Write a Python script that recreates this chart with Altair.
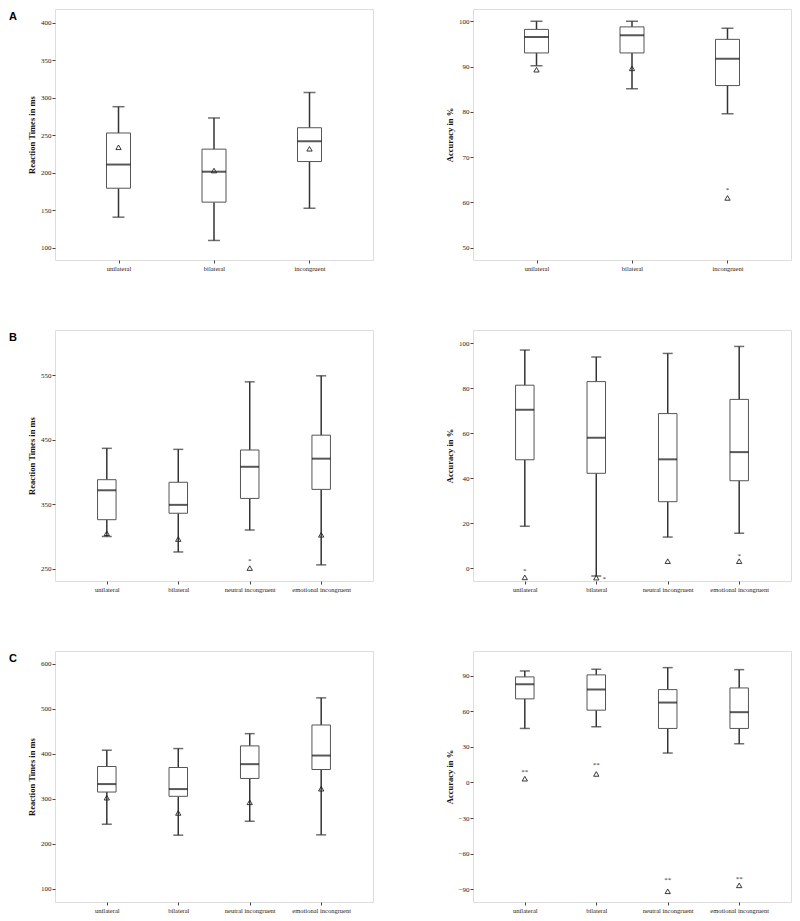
import altair as alt
import pandas as pd

# ---------------- data ----------------
A_CATS = ["unilateral", "bilateral", "incongruent"]
BC_CATS = ["unilateral", "bilateral", "neutral incongruent", "emotional incongruent"]

# Panel A - reaction times
A_RT_LOW = [141, 110, 153]
A_RT_Q1 = [179.5, 161, 215]
A_RT_MED = [211, 201.5, 242]
A_RT_Q3 = [253, 231.5, 260]
A_RT_HIGH = [288, 273, 307]
A_RT_MEAN = [234, 203, 232]

# Panel A - accuracy
A_ACC_LOW = [90.2, 85.1, 79.6]
A_ACC_Q1 = [93, 93, 85.8]
A_ACC_MED = [96.5, 96.9, 91.7]
A_ACC_Q3 = [98.2, 98.75, 96]
A_ACC_HIGH = [100, 100, 98.45]
A_ACC_MEAN = [89.3, 89.6, 61]
A_ACC_STAR_CAT = ["incongruent"]
A_ACC_STAR_VAL = [62.7]
A_ACC_STAR_TXT = ["*"]

# Panel B - reaction times
B_RT_LOW = [300, 276, 310, 256]
B_RT_Q1 = [326, 336, 359, 373]
B_RT_MED = [371.6, 349, 408, 420.6]
B_RT_Q3 = [388, 384, 434, 457]
B_RT_HIGH = [436.6, 435, 539.7, 549]
B_RT_MEAN = [305, 296, 251, 302.6]
B_RT_STAR_CAT = ["neutral incongruent"]
B_RT_STAR_VAL = [261.5]
B_RT_STAR_TXT = ["*"]

# Panel B - accuracy
B_ACC_LOW = [18.7, -3.4, 13.9, 15.6]
B_ACC_Q1 = [48.2, 42.2, 29.6, 38.9]
B_ACC_MED = [70.4, 58, 48.4, 51.6]
B_ACC_Q3 = [81.3, 82.9, 68.7, 75]
B_ACC_HIGH = [96.9, 93.8, 95.4, 98.5]
B_ACC_MEAN = [-4, -4.1, 3.2, 3.2]
B_ACC_STAR_CAT = ["unilateral", "emotional incongruent"]
B_ACC_STAR_VAL = [-1.2, 5.5]
B_ACC_STAR_TXT = ["*", "*"]
B_ACC_SIDE_STAR_CAT = ["bilateral"]
B_ACC_SIDE_STAR_VAL = [-4.6]

# Panel C - reaction times
C_RT_LOW = [243.6, 219.3, 250.2, 220]
C_RT_Q1 = [315, 305.5, 345.2, 365]
C_RT_MED = [332.7, 321.6, 376.9, 396]
C_RT_Q3 = [371.7, 369.5, 417.4, 463.8]
C_RT_HIGH = [407.8, 411.5, 444.6, 524]
C_RT_MEAN = [302.5, 268.6, 292.2, 322.4]

# Panel C - accuracy
C_ACC_LOW = [45.5, 46.9, 24.8, 32.6]
C_ACC_Q1 = [70.4, 60.9, 45.5, 45.5]
C_ACC_MED = [82.7, 78.2, 67.3, 59.2]
C_ACC_Q3 = [88.9, 90.6, 78.2, 79.6]
C_ACC_HIGH = [93.9, 95.3, 96.7, 95]
C_ACC_MEAN = [3.2, 7.2, -91.6, -86.6]
C_ACC_STAR_CAT = BC_CATS
C_ACC_STAR_VAL = [9.2, 14.9, -81.8, -81.4]
C_ACC_STAR_TXT = ["**", "**", "**", "**"]

RT_TITLE = "Reaction Times in ms"
ACC_TITLE = "Accuracy in %"

W = 318
H = 251
SERIF = "Liberation Serif"


def panel(cats, low, q1, med, q3, high, mean, title, domain, ticks, box_w, cap_w,
          pad, star_cat=None, star_val=None, star_txt=None,
          side_cat=None, side_val=None, letter=None):
    df = pd.DataFrame({"cat": cats, "low": low, "q1": q1, "med": med,
                       "q3": q3, "high": high, "mean": mean})
    xs = alt.Scale(type="point", padding=pad, domain=cats)
    ys = alt.Scale(domain=domain, nice=False, zero=False)
    x = alt.X("cat:N", scale=xs, sort=cats,
              axis=alt.Axis(title=None, labelAngle=0, labelFont=SERIF, labelFontSize=6.5,
                            tickSize=3, labelPadding=2, domain=False, labelColor="#222",
                            tickColor="#444"))
    yaxis = alt.Axis(title=title, values=ticks, labelFont=SERIF, labelFontSize=7,
                     titleFont=SERIF, titleFontSize=8.5, titleFontWeight="bold",
                     tickSize=3, labelPadding=1, titlePadding=4, domain=False, grid=False,
                     labelColor="#222", titleColor="#111", tickColor="#444")
    base = alt.Chart(df)
    whisk_lo = base.mark_rule(color="#333", strokeWidth=1.5).encode(
        x=x, y=alt.Y("low:Q", scale=ys, axis=yaxis), y2="q1:Q")
    whisk_hi = base.mark_rule(color="#333", strokeWidth=1.5).encode(
        x=x, y=alt.Y("q3:Q", scale=ys), y2="high:Q")
    cap_lo = base.mark_tick(color="#333", thickness=1.5, size=cap_w).encode(
        x=x, y=alt.Y("low:Q", scale=ys))
    cap_hi = base.mark_tick(color="#333", thickness=1.5, size=cap_w).encode(
        x=x, y=alt.Y("high:Q", scale=ys))
    box = base.mark_bar(fill="white", stroke="#555", strokeWidth=1, size=box_w).encode(
        x=x, y=alt.Y("q1:Q", scale=ys), y2="q3:Q")
    median = base.mark_tick(color="#111", thickness=2, size=box_w).encode(
        x=x, y=alt.Y("med:Q", scale=ys))
    means = base.mark_point(shape="triangle-up", filled=False, color="#222",
                            strokeWidth=0.9, size=28, opacity=1).encode(
        x=x, y=alt.Y("mean:Q", scale=ys))
    layers = [whisk_lo, whisk_hi, cap_lo, cap_hi, box, median, means]
    if star_cat:
        sdf = pd.DataFrame({"cat": star_cat, "val": star_val, "txt": star_txt})
        layers.append(alt.Chart(sdf).mark_text(font=SERIF, fontSize=7, color="#333",
                                               baseline="middle").encode(
            x=x, y=alt.Y("val:Q", scale=ys), text="txt:N"))
    if side_cat:
        sdf2 = pd.DataFrame({"cat": side_cat, "val": side_val})
        layers.append(alt.Chart(sdf2).mark_text(font=SERIF, fontSize=7, color="#333",
                                                baseline="middle", dx=8, text="*").encode(
            x=x, y=alt.Y("val:Q", scale=ys)))
    if letter:
        ldf = pd.DataFrame({"t": [letter]})
        layers.append(alt.Chart(ldf).mark_text(font="Liberation Sans", fontSize=11,
                                               fontWeight="bold", align="left",
                                               baseline="middle", color="#000").encode(
            x=alt.value(-46), y=alt.value(8), text="t:N"))
    return alt.layer(*layers).properties(width=W, height=H)


PAD3 = 0.665
PAD4 = 0.725

a1 = panel(A_CATS, A_RT_LOW, A_RT_Q1, A_RT_MED, A_RT_Q3, A_RT_HIGH, A_RT_MEAN,
           RT_TITLE, [84, 418], [100, 150, 200, 250, 300, 350, 400], 24, 12, PAD3,
           letter="A")
a2 = panel(A_CATS, A_ACC_LOW, A_ACC_Q1, A_ACC_MED, A_ACC_Q3, A_ACC_HIGH, A_ACC_MEAN,
           ACC_TITLE, [47.3, 102.7], [50, 60, 70, 80, 90, 100], 24, 12, PAD3,
           A_ACC_STAR_CAT, A_ACC_STAR_VAL, A_ACC_STAR_TXT)
b1 = panel(BC_CATS, B_RT_LOW, B_RT_Q1, B_RT_MED, B_RT_Q3, B_RT_HIGH, B_RT_MEAN,
           RT_TITLE, [231, 620], [250, 350, 450, 550], 18.5, 10, PAD4,
           B_RT_STAR_CAT, B_RT_STAR_VAL, B_RT_STAR_TXT, letter="B")
b2 = panel(BC_CATS, B_ACC_LOW, B_ACC_Q1, B_ACC_MED, B_ACC_Q3, B_ACC_HIGH, B_ACC_MEAN,
           ACC_TITLE, [-5.6, 105.8], [0, 20, 40, 60, 80, 100], 18.5, 10, PAD4,
           B_ACC_STAR_CAT, B_ACC_STAR_VAL, B_ACC_STAR_TXT,
           B_ACC_SIDE_STAR_CAT, B_ACC_SIDE_STAR_VAL)
c1 = panel(BC_CATS, C_RT_LOW, C_RT_Q1, C_RT_MED, C_RT_Q3, C_RT_HIGH, C_RT_MEAN,
           RT_TITLE, [71, 628], [100, 200, 300, 400, 500, 600], 18.5, 10, PAD4,
           letter="C")
c2 = panel(BC_CATS, C_ACC_LOW, C_ACC_Q1, C_ACC_MED, C_ACC_Q3, C_ACC_HIGH, C_ACC_MEAN,
           ACC_TITLE, [-100.6, 110.7], [-90, -60, -30, 0, 30, 60, 90], 18.5, 10, PAD4,
           C_ACC_STAR_CAT, C_ACC_STAR_VAL, C_ACC_STAR_TXT)

chart = alt.concat(a1, a2, b1, b2, c1, c2, columns=2,
                   spacing={"row": 70, "column": 100}, bounds="flush").properties(
    padding={"left": 0, "top": 0, "right": 0, "bottom": 0}
).resolve_scale(x="independent", y="independent"
).configure_view(stroke="#555555", strokeWidth=1).configure(background="white")

chart.save("out.html", embed_options={"renderer": "svg", "actions": False})
